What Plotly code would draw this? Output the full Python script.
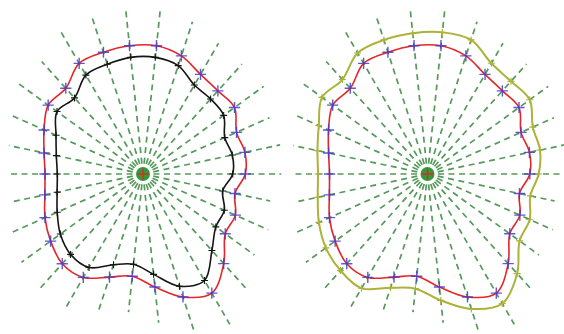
import numpy as np
import plotly.graph_objects as go

# 30 radial directions, 12 degrees apart (degrees, counter-clockwise from +x)
ray_angles = list(range(0, 360, 12))

# Radius of the reference contour (red) along each ray
red_r = [102.3, 104.2, 102.4, 113.1, 111.9, 115.0, 124.2, 129.0, 129.0, 128.0,
         127.7, 115.4, 117.2, 108.3, 101.1, 98.0, 100.3, 107.3, 114.2, 120.7,
         119.4, 108.4, 102.8, 113.6, 129.3, 137.6, 120.6, 101.7, 101.1, 94.0]

# Shrunk contour (black, left panel)
inner_r = [89.7, 91.3, 89.5, 99.7, 101.0, 102.7, 114.0, 117.3, 117.3, 115.4,
           114.2, 102.4, 106.3, 95.2, 88.6, 85.7, 87.8, 93.9, 102.2, 108.2,
           107.9, 95.4, 90.8, 100.9, 118.0, 123.0, 103.0, 90.0, 89.0, 81.5]

# Expanded contour (olive, right panel)
outer_r = [111.2, 115.0, 115.3, 126.3, 124.7, 127.8, 141.0, 142.4, 141.5, 141.0,
           139.8, 127.1, 130.4, 119.0, 112.5, 109.5, 112.2, 118.9, 125.6, 130.0,
           132.0, 119.6, 115.3, 127.1, 141.9, 149.6, 134.0, 113.8, 111.9, 105.1]

RAY_EXTRA = 36          # rays run this far past the red contour
SEAM = 15               # start closed curves on the flat left side (180 deg)

GREEN = "#559a5a"
RED = "#e3262a"
BLUE = "rgba(72,58,205,0.85)"
BLACK = "#151515"
OLIVE = "#abb33a"

th = np.deg2rad(np.array(ray_angles, dtype=float))


def polar_xy(r):
    r = np.asarray(r, dtype=float)
    return r * np.cos(th), r * np.sin(th)


def closed(r):
    x, y = polar_xy(r)
    x = np.roll(x, -SEAM)
    y = np.roll(y, -SEAM)
    return np.append(x, x[0]), np.append(y, y[0])


fig = go.Figure()


def add_panel(xa, ya, other_r, other_color, other_width):
    # dashed rays from the centre
    rx, ry = [], []
    for a, r in zip(th, red_r):
        L = r + RAY_EXTRA
        rx += [0, L * np.cos(a), None]
        ry += [0, L * np.sin(a), None]
    fig.add_trace(go.Scatter(x=rx, y=ry, mode="lines", xaxis=xa, yaxis=ya,
                             line=dict(color=GREEN, width=1.7, dash="6px,4.5px"),
                             hoverinfo="skip", showlegend=False))

    # second contour
    ox, oy = closed(other_r)
    fig.add_trace(go.Scatter(x=ox, y=oy, mode="lines", xaxis=xa, yaxis=ya,
                             line=dict(color=other_color, width=other_width,
                                       shape="spline", smoothing=1.0),
                             hoverinfo="skip", showlegend=False))
    px, py = polar_xy(other_r)
    fig.add_trace(go.Scatter(x=px, y=py, mode="markers", xaxis=xa, yaxis=ya,
                             marker=dict(symbol="cross-thin", size=5,
                                         line=dict(color=other_color, width=1.1)),
                             hoverinfo="skip", showlegend=False))

    # red contour with blue crosses on each ray
    cx, cy = closed(red_r)
    fig.add_trace(go.Scatter(x=cx, y=cy, mode="lines", xaxis=xa, yaxis=ya,
                             line=dict(color=RED, width=1.6, shape="spline",
                                       smoothing=1.0),
                             hoverinfo="skip", showlegend=False))
    mx, my = polar_xy(red_r)
    fig.add_trace(go.Scatter(x=mx, y=my, mode="markers", xaxis=xa, yaxis=ya,
                             marker=dict(symbol="cross-thin", size=8,
                                         line=dict(color=BLUE, width=1.4)),
                             hoverinfo="skip", showlegend=False))

    # centre point
    fig.add_trace(go.Scatter(x=[0], y=[0], mode="markers", xaxis=xa, yaxis=ya,
                             marker=dict(symbol="circle", size=14, color="#2f9c3c",
                                         line=dict(width=0)),
                             hoverinfo="skip", showlegend=False))
    fig.add_trace(go.Scatter(x=[0], y=[0], mode="markers", xaxis=xa, yaxis=ya,
                             marker=dict(symbol="cross-thin", size=8,
                                         line=dict(color=RED, width=1.5)),
                             hoverinfo="skip", showlegend=False))


add_panel("x", "y", inner_r, BLACK, 1.6)
add_panel("x2", "y2", outer_r, OLIVE, 2.0)

W, H = 564, 334
half = 282 / W
axis_off = dict(visible=False, showgrid=False, zeroline=False, fixedrange=True)

fig.update_layout(
    width=W, height=H,
    margin=dict(l=0, r=0, t=0, b=0),
    paper_bgcolor="white", plot_bgcolor="white",
    showlegend=False,
    xaxis=dict(domain=[0, half], range=[-143, 139], **axis_off),
    yaxis=dict(domain=[0, 1], range=[-160, 174], **axis_off),
    xaxis2=dict(domain=[half, 1], range=[-145.5, 136.5], **axis_off),
    yaxis2=dict(domain=[0, 1], range=[-160, 174], anchor="x2", **axis_off),
)

fig.write_html("out.html", config={"displayModeBar": False})
